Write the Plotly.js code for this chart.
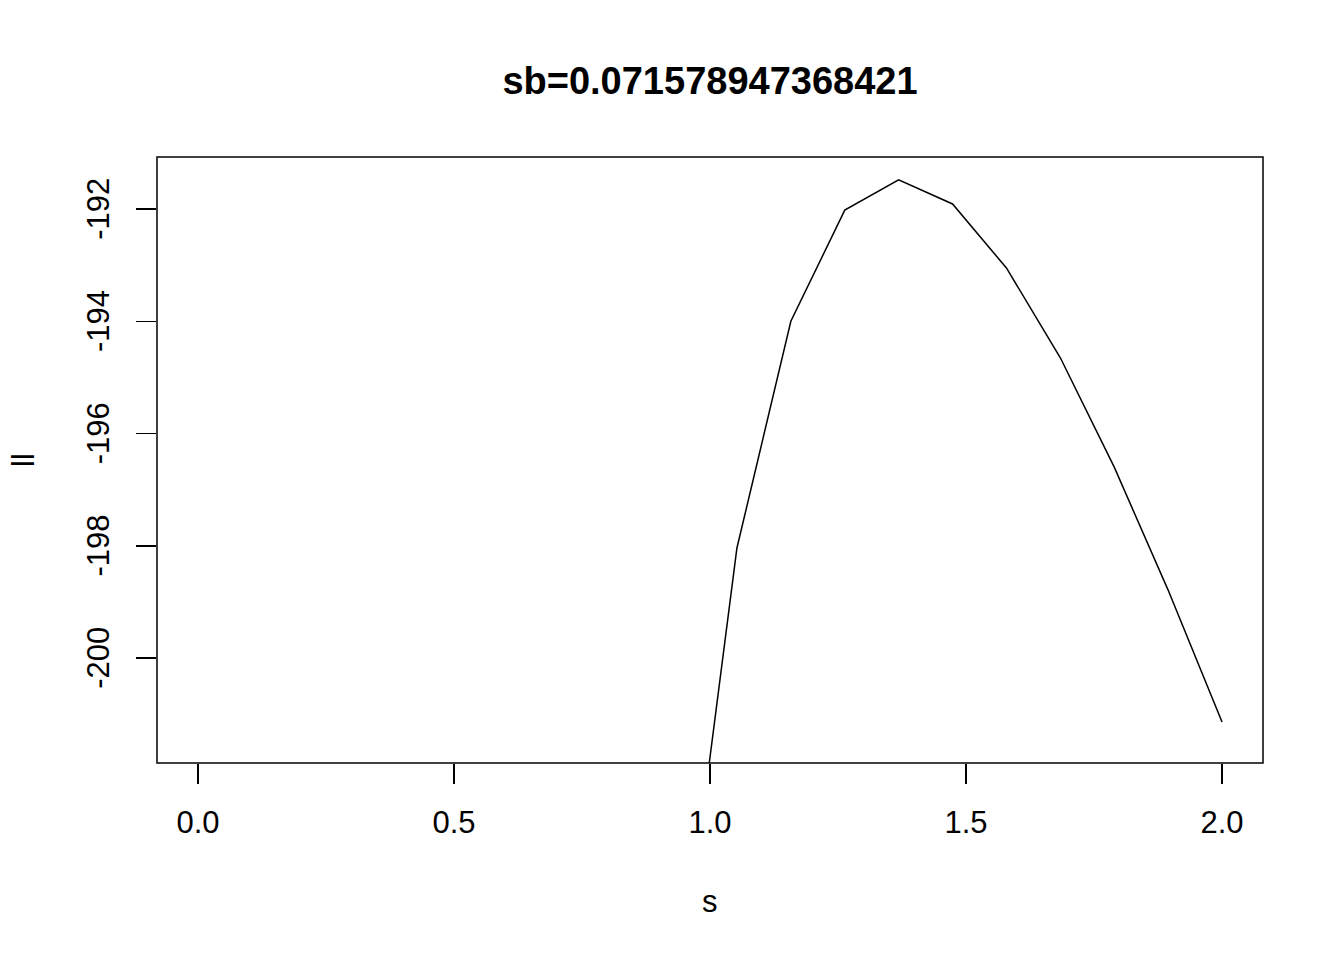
<!DOCTYPE html>
<html>
<head>
<meta charset="utf-8">
<script src="https://cdn.plot.ly/plotly-3.0.1.min.js"></script>
<style>html,body{margin:0;padding:0;background:#fff;}#chart{width:1344px;height:960px;}</style>
</head>
<body>
<div id="chart"></div>
<script>
// s values: seq(0, 2, length = 20)
const sValues = [0, 0.1053, 0.2105, 0.3158, 0.4211, 0.5263, 0.6316, 0.7368, 0.8421, 0.9474,
                 1.0526, 1.1579, 1.2632, 1.3684, 1.4737, 1.5789, 1.6842, 1.7895, 1.8947, 2.0];
// log-likelihood values (points below the plotted window are not readable -> null)
const llValues = [null, null, null, null, null, null, null, null, null, -205.5,
                  -198.04, -194.0, -192.02, -191.48, -191.91, -193.05, -194.65, -196.60, -198.79, -201.14];
const xTicks = [0, 0.5, 1, 1.5, 2];
const xTickText = ["0.0", "0.5", "1.0", "1.5", "2.0"];
const yTicks = [-192, -194, -196, -198, -200];
const yTickText = ["-192", "-194", "-196", "-198", "-200"];
const titleText = "sb=0.071578947368421";
const xLabel = "s";
const yLabel = "ll";

const font = "Liberation Sans, Arial, Helvetica, sans-serif";

const trace = {
  x: sValues, y: llValues, type: "scatter", mode: "lines",
  line: {color: "#000", width: 1.5}, connectgaps: false, hoverinfo: "skip"
};

const layout = {
  width: 1344, height: 960,
  margin: {l: 157, r: 81, t: 157, b: 197, pad: 0},
  paper_bgcolor: "#fff", plot_bgcolor: "#fff",
  showlegend: false,
  font: {family: font, color: "#000", size: 31},
  title: {text: "<b>" + titleText + "</b>", font: {family: font, size: 38, color: "#000"},
          x: 0.5, xref: "paper", y: 1 - 81/960, yref: "container", yanchor: "middle"},
  xaxis: {range: [-0.08, 2.08], tickvals: xTicks, ticktext: xTickText, ticks: "outside",
          ticklen: 20, tickwidth: 1.5, tickcolor: "#000", showgrid: false, zeroline: false,
          showline: false, tickfont: {size: 31, family: font}, ticklabelstandoff: 12},
  yaxis: {range: [-201.871, -191.073], tickvals: yTicks,
          ticktext: yTickText.map(t => t + "\u00a0"), ticks: "outside",
          ticklen: 20, tickwidth: 1.5, tickcolor: "#000", showgrid: false, zeroline: false,
          showline: false, tickangle: -90, tickfont: {size: 31, family: font}, ticklabelstandoff: 15},
  shapes: [{type: "rect", xref: "paper", yref: "paper", x0: 0, x1: 1, y0: 0, y1: 1,
            line: {color: "#000", width: 1.5}, fillcolor: "rgba(0,0,0,0)"}],
  annotations: [
    {text: xLabel, xref: "paper", yref: "paper", x: 0.5, y: -(901-763)/606, xanchor: "center", yanchor: "middle",
     showarrow: false, font: {size: 31, family: font}},
    {text: yLabel, xref: "paper", yref: "paper", x: (23-157)/1106, y: 0.5, xanchor: "center", yanchor: "middle",
     textangle: -90, showarrow: false, font: {size: 31, family: font}}
  ]
};

Plotly.newPlot("chart", [trace], layout, {staticPlot: true, displayModeBar: false});
</script>
</body>
</html>
